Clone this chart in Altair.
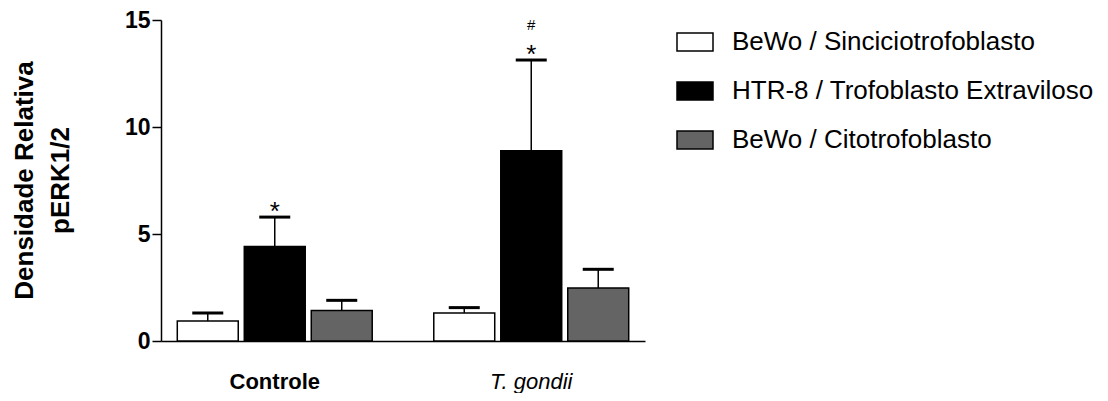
import altair as alt
import pandas as pd

groups = ["Controle", "Controle", "Controle", "T. gondii", "T. gondii", "T. gondii"]
series_names = ["BeWo / Sinciciotrofoblasto", "HTR-8 / Trofoblasto Extraviloso", "BeWo / Citotrofoblasto"]
series = series_names * 2
means = [0.94, 4.42, 1.42, 1.31, 8.89, 2.48]
err_tops = [1.31, 5.79, 1.90, 1.56, 13.13, 3.35]
stars = ["", "*", "", "", "*", ""]
hashes = ["", "", "", "", "#", ""]
colors = ["#ffffff", "#000000", "#646464"]
y_ticks = [0, 5, 10, 15]

df = pd.DataFrame({
    "grupo": groups, "serie": series, "media": means, "erro": err_tops,
    "star": stars, "hash": hashes,
})

FONT = "Liberation Sans"

x_enc = alt.X("grupo:N", sort=["Controle", "T. gondii"],
              scale=alt.Scale(paddingInner=0.24, paddingOuter=0.0635),
              axis=alt.Axis(title=None, labelAngle=0, ticks=False, tickSize=0,
                            labelPadding=30, labelFontSize=22, labelColor="black",
                            labelFont=FONT,
                            labelFontWeight={"condition": {"test": "datum.value == 'Controle'", "value": "bold"}, "value": "normal"},
                            labelFontStyle={"condition": {"test": "datum.value == 'Controle'", "value": "normal"}, "value": "italic"},
                            domainColor="black", domainWidth=1.5))
xo_enc = alt.XOffset("serie:N", sort=series_names,
                     scale=alt.Scale(paddingInner=0.09, paddingOuter=0))
y_scale = alt.Scale(domain=[0, 15], nice=False)

base = alt.Chart(df)

bars = base.mark_bar(stroke="black", strokeWidth=1.5).encode(
    x=x_enc,
    xOffset=xo_enc,
    y=alt.Y("media:Q", scale=y_scale,
            axis=alt.Axis(values=y_ticks, title=["Densidade Relativa", "pERK1/2"],
                          titleFont=FONT, titleFontSize=26, titleFontWeight="bold",
                          titleColor="black", titleLineHeight=36,
                          titleX=-137, titleY=160, titleAngle=-90,
                          titleBaseline="middle", titleAlign="center",
                          labelFont=FONT, labelFontSize=23, labelFontWeight="bold",
                          labelColor="black", labelPadding=2,
                          tickSize=9, tickWidth=1.5, tickColor="black",
                          domainColor="black", domainWidth=1.5, grid=False)),
    fill=alt.Fill("serie:N", sort=series_names,
                  scale=alt.Scale(domain=series_names, range=colors),
                  legend=alt.Legend(title=None, orient="none", legendX=515, legendY=3,
                                    symbolType="M-1,-0.5L1,-0.5L1,0.5L-1,0.5Z",
                                    symbolSize=1296, symbolStrokeColor="black",
                                    symbolStrokeWidth=1.5, symbolOpacity=1,
                                    labelFont=FONT, labelFontSize=26, labelColor="black",
                                    labelOffset=18, rowPadding=17, padding=0,
                                    labelLimit=500)),
)

rules = base.mark_rule(color="black", strokeWidth=1.5).encode(
    x=x_enc, xOffset=xo_enc,
    y=alt.Y("media:Q", scale=y_scale), y2="erro:Q",
)

caps = base.mark_tick(orient="horizontal", size=31, thickness=3, color="black", opacity=1).encode(
    x=x_enc, xOffset=xo_enc,
    y=alt.Y("erro:Q", scale=y_scale),
)

star_text = base.mark_text(font=FONT, fontSize=26, baseline="alphabetic", dy=3, color="black").encode(
    x=x_enc, xOffset=xo_enc,
    y=alt.Y("erro:Q", scale=y_scale),
    text="star:N",
)

hash_text = base.mark_text(font=FONT, fontSize=15, baseline="alphabetic", dy=-30, color="black").encode(
    x=x_enc, xOffset=xo_enc,
    y=alt.Y("erro:Q", scale=y_scale),
    text="hash:N",
)

chart = alt.layer(bars, rules, caps, star_text, hash_text).properties(
    width=484, height=321,
    autosize=alt.AutoSizeParams(type="none"),
    padding={"left": 153, "top": 12, "right": 455, "bottom": 52},
).configure_view(stroke=None).configure_axis(grid=False)

chart.save("out.html", embed_options={"renderer": "svg", "actions": False})
